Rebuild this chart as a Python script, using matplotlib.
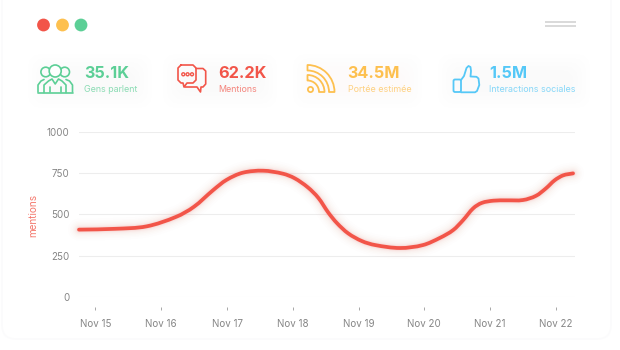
import matplotlib
matplotlib.use('Agg')
import matplotlib.pyplot as plt
from matplotlib.patches import Circle, FancyBboxPatch, PathPatch, Wedge, Rectangle
from matplotlib.path import Path

plt.rcParams['font.family'] = ['Inter', 'DejaVu Sans']

# valeurs
days = [-0.25, 0.3, 0.78, 1.23, 1.5, 1.79, 1.99, 2.24, 2.55, 2.85, 3.03, 3.23, 3.39, 3.54, 3.67, 3.84, 4.05,
        4.25, 4.63, 4.98, 5.24, 5.44, 5.59, 5.74, 5.87, 6.05, 6.25, 6.5, 6.7, 6.85, 6.98, 7.11, 7.26]
mentions = [407, 412, 427, 485, 546, 646, 707, 751, 763, 745, 717, 662, 598, 510, 447, 385, 338,
            314, 296, 314, 358, 405, 465, 535, 568, 582, 584, 586, 612, 657, 705, 735, 747]
tick_days = [0, 1, 2, 3, 4, 5, 6, 7]
tick_labels = ['Nov 15', 'Nov 16', 'Nov 17', 'Nov 18', 'Nov 19', 'Nov 20', 'Nov 21', 'Nov 22']
y_ticks = [0, 250, 500, 750, 1000]
stat_values = ['35.1K', '62.2K', '34.5M', '1.5M']
stat_labels = ['Gens parlent', 'Mentions', 'Portée estimée', 'Interactions sociales']

GREEN = '#5ccf96'
RED = '#f25549'
YELLOW = '#fdc04f'
BLUE = '#55c8f7'
stat_colors = [GREEN, RED, YELLOW, BLUE]
stat_x = [84, 218.5, 347.5, 489]

fig = plt.figure(figsize=(6.2, 3.5), dpi=100, facecolor='white')

# calque en pixels pour la carte et les icones
bg = fig.add_axes([0, 0, 1, 1], zorder=0)
bg.set_xlim(0, 620)
bg.set_ylim(350, 0)
bg.axis('off')

bg.add_patch(Rectangle((0, 0), 620, 350, fc='white', ec='none'))
bg.add_patch(FancyBboxPatch((14, -30), 585, 357, boxstyle='round,pad=12,rounding_size=14',
                            fc='white', ec='#fbfbfc', lw=1.2))

# halo tres leger derriere les stats
for (x0, x1), c in zip([(28, 152), (163, 277), (293, 422), (438, 590)], stat_colors):
    for pad in [0, 4, 8, 12, 16]:
        bg.add_patch(FancyBboxPatch((x0 + pad, 54 + pad), x1 - x0 - 2 * pad, 54 - 2 * pad,
                                    boxstyle='round,pad=0,rounding_size=14', fc=c, ec='none', alpha=0.004))

# boutons fenetre
for x, c in zip([43.5, 62.5, 81], [RED, YELLOW, GREEN]):
    bg.add_patch(Circle((x, 25), 6.4, fc=c, ec='none'))
for y in [22, 26]:
    bg.plot([545, 576], [y, y], color='#cfcfcf', lw=1.1, solid_capstyle='butt')


def stroke(xs, ys, color, lw=1.2):
    bg.plot(xs, ys, color=color, lw=lw, solid_capstyle='round', solid_joinstyle='round')


# icone personnes
for cx, cy, r in [(45.7, 72, 4.8), (64.7, 72, 4.8)]:
    bg.add_patch(Circle((cx, cy), r, fc='none', ec=GREEN, lw=1.2))
bg.add_patch(Circle((55.2, 71), 6, fc='white', ec=GREEN, lw=1.2))
stroke([38, 38, 41, 44], [92, 85, 81, 79.5], GREEN)
stroke([72.5, 72.5, 69.5, 66], [92, 85, 81, 79.5], GREEN)
stroke([38, 72.5], [92.5, 92.5], GREEN)
stroke([44, 44, 48.5, 52, 55.2, 58.5, 62, 66, 66], [92.5, 85, 81, 79, 84, 79, 81, 85, 92.5], GREEN)
stroke([50, 50], [87, 92], GREEN)
stroke([60.5, 60.5], [87, 92], GREEN)

# icone bulles
stroke([181, 193, 196, 196, 193, 187, 184, 183, 181, 178, 178, 181],
       [65, 65, 68, 80, 83, 83, 87, 83, 83, 80, 68, 65], RED)
stroke([196, 203, 205.7, 205.7, 203, 201, 200.5, 197, 185],
       [68.5, 68.5, 71, 84, 87, 87, 92, 87, 87], RED)
for x in [183.3, 187.6, 192]:
    bg.add_patch(Circle((x, 74.3), 1.5, fc='none', ec=RED, lw=1))

# icone rss
for r, w in [(27, 5.5), (17, 5.5)]:
    bg.add_patch(Wedge((307.5, 92), r, 270, 360, width=w, fc='none', ec=YELLOW, lw=1.3, joinstyle='round'))
bg.add_patch(Circle((310.5, 89.5), 2.6, fc='none', ec=YELLOW, lw=1.3))

# icone pouce
bg.add_patch(FancyBboxPatch((453.5, 79.5), 7.5, 12.5, boxstyle='round,pad=0,rounding_size=1.5',
                            fc='none', ec=BLUE, lw=1.3))
stroke([461, 464, 466.5, 468.5, 470.5, 471, 470.5, 476.5, 478.5, 479.3, 477, 475, 461],
       [80, 76, 68, 66, 67, 71, 76.5, 76.8, 78.5, 85, 91, 92.3, 92.3], BLUE, lw=1.3)

# stats
for x, val, lab, c in zip(stat_x, stat_values, stat_labels, stat_colors):
    bg.text(x, 78.5, val, color=c, fontsize=11.7, fontweight='bold', ha='left', va='baseline')
    bg.text(x, 91.5, lab, color=c, fontsize=6.4, alpha=0.7, ha='left', va='baseline')

# graphique principal
ax = fig.add_axes([79 / 620, 1 - 297 / 350, (575 - 79) / 620, (297 - 131.5) / 350], zorder=1)
ax.patch.set_alpha(0)
ax.set_xlim(-0.25, 7.29)
ax.set_ylim(0, 1000)
for s in ['top', 'left', 'right']:
    ax.spines[s].set_visible(False)
ax.spines['bottom'].set_visible(False)
ax.spines['bottom'].set_position(('outward', 7.5))

ax.set_yticks(y_ticks)
ax.set_xticks(tick_days)
ax.set_xticklabels(tick_labels)
ax.tick_params(axis='x', length=2, width=0.6, color='#999999', labelsize=7, labelcolor='#858585', pad=6.5)
ax.tick_params(axis='y', length=0, labelsize=7, labelcolor='#858585', pad=7)
ax.set_axisbelow(True)
ax.yaxis.grid(True, color='#ededed', lw=0.8)
ax.xaxis.grid(False)
ax.set_ylabel('mentions', color='#f4796e', fontsize=7.2, labelpad=0)
ax.yaxis.set_label_coords(-0.083, 0.49)

# courbe lissee passant par les valeurs lues (tangentes type spline)
n = len(days)
slopes = []
for i in range(n):
    a, b = max(i - 1, 0), min(i + 1, n - 1)
    slopes.append((mentions[b] - mentions[a]) / (days[b] - days[a]))
verts = [(days[0], mentions[0])]
codes = [Path.MOVETO]
for i in range(n - 1):
    dx = (days[i + 1] - days[i]) / 3
    verts += [(days[i] + dx, mentions[i] + slopes[i] * dx),
              (days[i + 1] - dx, mentions[i + 1] - slopes[i + 1] * dx),
              (days[i + 1], mentions[i + 1])]
    codes += [Path.CURVE4] * 3
curve = Path(verts, codes)

for lw, alpha in [(16, 0.008), (13, 0.01), (11, 0.012), (9, 0.018), (7, 0.025), (5.5, 0.04), (4, 0.07)]:
    ax.add_patch(PathPatch(curve, fc='none', ec=RED, lw=lw, alpha=alpha, capstyle='round', clip_on=False))
ax.add_patch(PathPatch(curve, fc='none', ec=RED, lw=2.7, capstyle='round', clip_on=False))

fig.savefig('out.png', dpi=100)
